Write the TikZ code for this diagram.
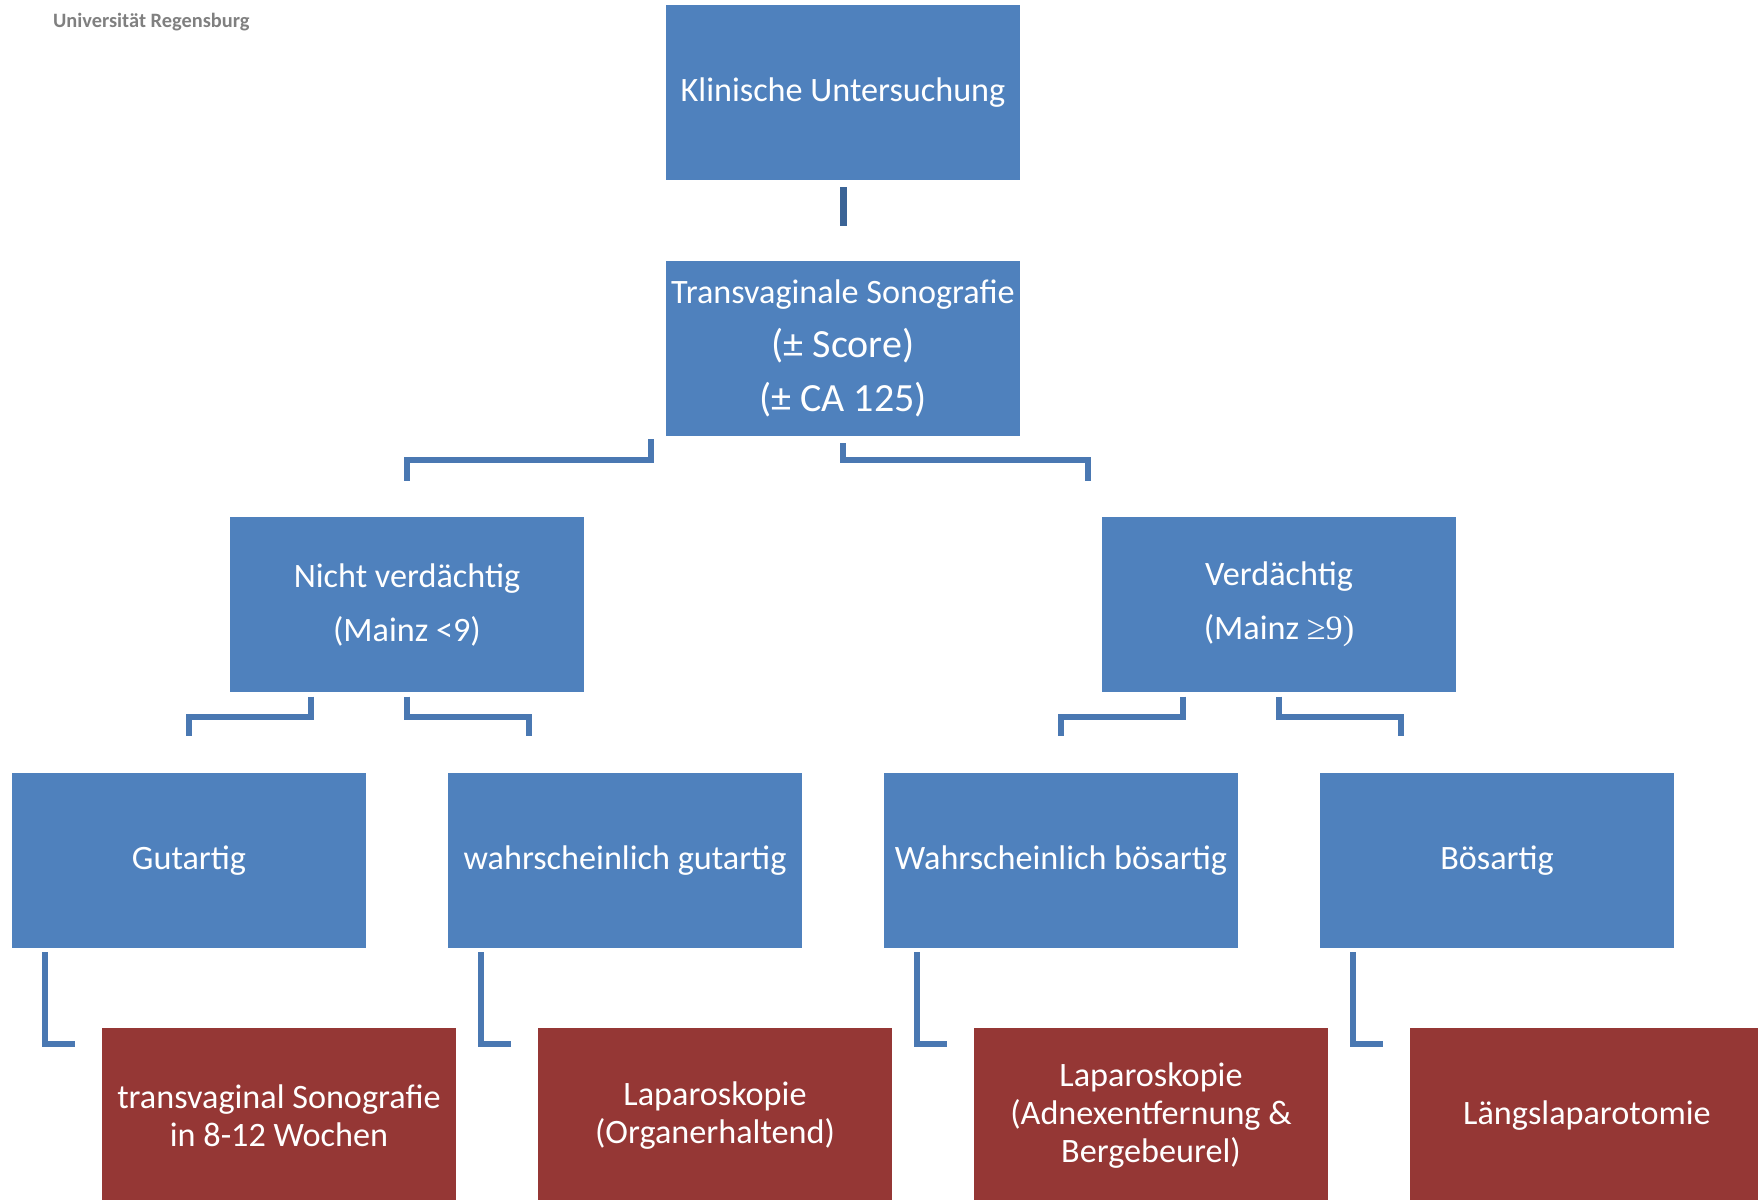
\documentclass[tikz,border=0pt]{standalone}
\usepackage{fontspec}
\setmainfont{Carlito}
\newfontfamily\serifsym{Liberation Serif}
\usetikzlibrary{positioning}
\definecolor{boxblue}{HTML}{4F81BD}
\definecolor{boxred}{HTML}{953735}
\definecolor{lineblue}{HTML}{4A78B2}
\definecolor{linedark}{HTML}{3B6496}

\begin{document}
\begin{tikzpicture}[
  x=0.5pt, y=-0.5pt,
  node distance=40.5pt,
  font=\fontsize{17.1}{27}\selectfont
]
\tikzset{
    bluebox/.style = {rectangle, fill=boxblue, text=white, align=center, minimum width=177pt, minimum height=87.5pt, inner sep=2pt, outer sep=0pt},
    redbox/.style = {bluebox, fill=boxred, font=\fontsize{17.1}{19}\selectfont},
    link/.style = {draw=lineblue, line width=3pt},
}
\useasboundingbox (0,0) rectangle (1758,1200);
\clip (0,0) rectangle (1758,1200);

\node[anchor=base west, text=gray, font=\bfseries\fontsize{10.2}{12}\selectfont] (uni) at (46,27) {Universität Regensburg};

\node[bluebox] (kli) at (843,92.5) {Klinische Untersuchung};
\node[bluebox, below=of kli] (tvs) {Transvaginale Sonografie\\{\fontsize{20}{27}\selectfont(± Score)}\\{\fontsize{20}{27}\selectfont(± CA 125)}};

\node[bluebox, below=of tvs, xshift=-218pt] (nv) {Nicht verdächtig\\(Mainz <9)};
\node[bluebox, below=of tvs, xshift=218pt] (ve) {Verdächtig\\(Mainz {\serifsym ≥9)}};

\node[bluebox, below=of nv, xshift=-109pt] (gut) {Gutartig};
\node[bluebox, below=of nv, xshift=109pt] (wgut) {wahrscheinlich gutartig};
\node[bluebox, below=of ve, xshift=-109pt] (wboes) {Wahrscheinlich bösartig};
\node[bluebox, below=of ve, xshift=109pt] (boes) {Bösartig};

\node[redbox, below=40pt of gut, xshift=45pt] (red1) {transvaginal Sonografie\\in 8-12 Wochen};
\node[redbox, below=40pt of wgut, xshift=45pt] (red2) {Laparoskopie\\(Organerhaltend)};
\node[redbox, below=40pt of wboes, xshift=45pt] (red3) {Laparoskopie\\(Adnexentfernung \&\\Bergebeurel)};
\node[redbox, below=40pt of boes, xshift=45pt] (red4) {Längslaparotomie};

\draw[link, draw=linedark, line width=3.5pt] ([yshift=-3.5pt]kli.south) -- ([yshift=17.5pt]tvs.north);

\draw[link] ([xshift=-7.5pt,yshift=-1.5pt]tvs.south west) -- ++(0,-10.5pt) -| ([yshift=18pt]nv.north);
\draw[link] ([yshift=-3.5pt]tvs.south) -- ++(0,-8.5pt) -| ([xshift=-95.75pt,yshift=18pt]ve.north);

\draw[link] ([xshift=-48pt,yshift=-2.25pt]nv.south) -- ++(0,-10pt) -| ([yshift=18.75pt]gut.north);
\draw[link] ([yshift=-2.25pt]nv.south) -- ++(0,-10pt) -| ([xshift=-48pt,yshift=18.75pt]wgut.north);
\draw[link] ([xshift=-48pt,yshift=-2.25pt]ve.south) -- ++(0,-10pt) -| ([yshift=18.75pt]wboes.north);
\draw[link] ([yshift=-2.25pt]ve.south) -- ++(0,-10pt) -| ([xshift=-48pt,yshift=18.75pt]boes.north);

\draw[link] ([xshift=16.5pt,yshift=-2pt]gut.south west) |- ([xshift=-13.5pt,yshift=-8pt]red1.north west);
\draw[link] ([xshift=16.5pt,yshift=-2pt]wgut.south west) |- ([xshift=-13.5pt,yshift=-8pt]red2.north west);
\draw[link] ([xshift=16.5pt,yshift=-2pt]wboes.south west) |- ([xshift=-13.5pt,yshift=-8pt]red3.north west);
\draw[link] ([xshift=16.5pt,yshift=-2pt]boes.south west) |- ([xshift=-13.5pt,yshift=-8pt]red4.north west);
\end{tikzpicture}
\end{document}
